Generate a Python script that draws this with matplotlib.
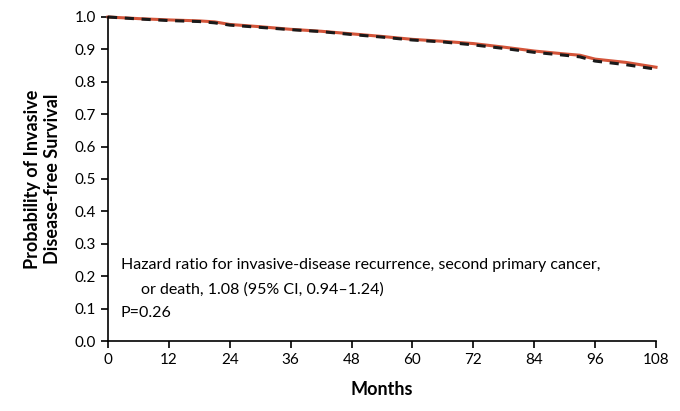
import matplotlib.pyplot as plt

months = [0, 6, 12, 18, 21, 24, 30, 36, 42, 48, 54, 60, 66, 72, 78, 84, 90, 93, 96, 102, 108]
red = [1.0, 0.995, 0.991, 0.988, 0.985, 0.977, 0.970, 0.962, 0.956, 0.948, 0.940, 0.931, 0.925, 0.918, 0.907, 0.895, 0.886, 0.882, 0.870, 0.860, 0.845]
black = [1.0, 0.994, 0.989, 0.986, 0.982, 0.975, 0.968, 0.961, 0.955, 0.946, 0.938, 0.929, 0.923, 0.914, 0.903, 0.891, 0.882, 0.877, 0.864, 0.853, 0.839]
xticks = list(range(0, 109, 12))
yticks = [i / 10 for i in range(11)]

plt.rcParams['font.family'] = ['Lato', 'DejaVu Sans']
fig = plt.figure(figsize=(6.8, 4.11), dpi=100)
ax = fig.add_axes([108 / 680, 1 - 341 / 411, 548 / 680, 324 / 411])

ax.plot(months, red, color='#d4553a', lw=2.2, clip_on=False)
ax.plot(months, black, color='#1a1a1a', lw=2.2, ls=(0, (3, 2.5)), clip_on=False)

ax.set_xlim(0, 108)
ax.set_ylim(0, 1.0)
ax.set_xticks(xticks)
ax.set_yticks(yticks)
ax.set_yticklabels(['%.1f' % v for v in yticks])
ax.tick_params(labelsize=11, direction='out', length=5, width=1.2)
for s in ['top', 'right']:
    ax.spines[s].set_visible(False)
for s in ['left', 'bottom']:
    ax.spines[s].set_linewidth(1.2)

ax.set_xlabel('Months', fontsize=13, fontweight='bold', labelpad=10)
ax.set_ylabel('Probability of Invasive\nDisease-free Survival', fontsize=13, fontweight='bold', labelpad=10)

ax.text(2.5, 0.235, 'Hazard ratio for invasive-disease recurrence, second primary cancer,',
        fontsize=11.5, va='center')
ax.text(6.5, 0.158, 'or death, 1.08 (95% CI, 0.94\u20131.24)', fontsize=11.5, va='center')
ax.text(2.5, 0.085, 'P=0.26', fontsize=11.5, va='center')

fig.savefig('out.png', dpi=100)
